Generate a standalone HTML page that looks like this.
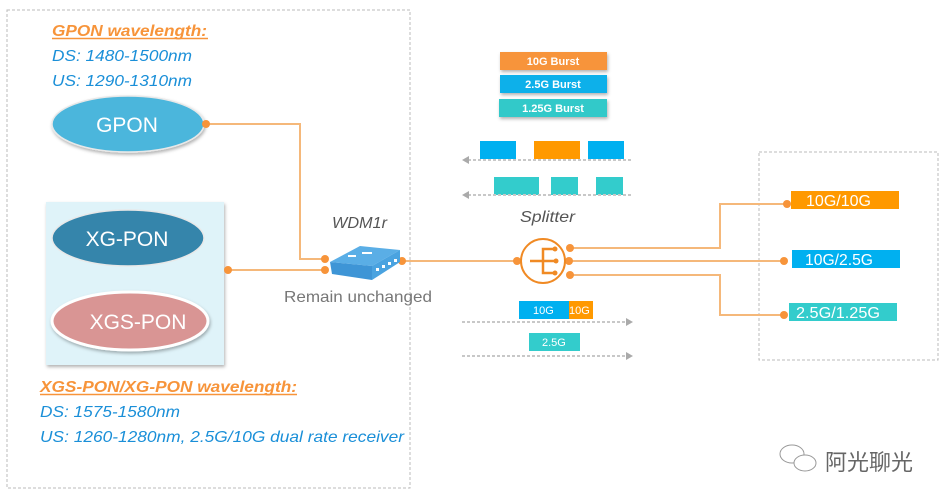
<!DOCTYPE html>
<html><head><meta charset="utf-8"><style>
body{margin:0;background:#fff;}
svg{display:block;font-family:"Liberation Sans","Noto Sans CJK SC",sans-serif;}
</style></head><body>
<svg width="946" height="502" viewBox="0 0 946 502" xmlns="http://www.w3.org/2000/svg">
<defs>
<filter id="sh" x="-20%" y="-20%" width="140%" height="150%"><feDropShadow dx="1" dy="2" stdDeviation="1.5" flood-color="#000" flood-opacity="0.3"/></filter>
</defs>
<rect x="7" y="10" width="403" height="478" fill="none" stroke="#bbb" stroke-dasharray="3,2"/>
<rect x="759" y="152" width="179" height="208" fill="none" stroke="#bbb" stroke-dasharray="3,2"/>

<text x="52" y="36" font-size="16" font-weight="bold" font-style="italic" fill="#f7943a" textLength="155" lengthAdjust="spacingAndGlyphs">GPON wavelength:</text>
<line x1="52" y1="38.5" x2="208" y2="38.5" stroke="#f7943a" stroke-width="1.5"/>
<text x="52" y="61" font-size="16" font-style="italic" fill="#1a8fd8" textLength="140" lengthAdjust="spacingAndGlyphs">DS: 1480-1500nm</text>
<text x="52" y="86" font-size="16" font-style="italic" fill="#1a8fd8" textLength="140" lengthAdjust="spacingAndGlyphs">US: 1290-1310nm</text>

<ellipse cx="128" cy="124" rx="76" ry="28" fill="#4bb6dc" stroke="#e8e8e8" stroke-width="1.5" filter="url(#sh)"/>
<text x="127" y="132" font-size="21" fill="#fff" text-anchor="middle">GPON</text>

<rect x="46" y="202" width="178" height="163" fill="#dff3f9" filter="url(#sh)"/>
<ellipse cx="128" cy="238" rx="76" ry="28" fill="#3585ab" stroke="#e8e8e8" stroke-width="1.5"/>
<text x="127" y="246" font-size="21" fill="#fff" text-anchor="middle">XG-PON</text>
<ellipse cx="130" cy="321" rx="78" ry="29" fill="#d99594" stroke="#fff" stroke-width="3" filter="url(#sh)"/>
<text x="138" y="329" font-size="21" fill="#fff" text-anchor="middle">XGS-PON</text>

<text x="40" y="392" font-size="16" font-weight="bold" font-style="italic" fill="#f7943a" textLength="257" lengthAdjust="spacingAndGlyphs">XGS-PON/XG-PON wavelength:</text>
<line x1="40" y1="394.5" x2="297" y2="394.5" stroke="#f7943a" stroke-width="1.5"/>
<text x="40" y="417" font-size="16" font-style="italic" fill="#1a8fd8" textLength="140" lengthAdjust="spacingAndGlyphs">DS: 1575-1580nm</text>
<text x="40" y="442" font-size="16" font-style="italic" fill="#1a8fd8" textLength="364" lengthAdjust="spacingAndGlyphs">US: 1260-1280nm, 2.5G/10G dual rate receiver</text>

<g stroke="#f5b87a" stroke-width="2" fill="none">
<polyline points="206,124 300,124 300,259 326,259"/>
<line x1="228" y1="270" x2="326" y2="270"/>
<line x1="402" y1="261" x2="518" y2="261"/>
<polyline points="570,248 720,248 720,204 787,204"/>
<line x1="570" y1="261" x2="784" y2="261"/>
<polyline points="570,275 720,275 720,315 784,315"/>
</g>
<g fill="#f7943a">
<circle cx="206" cy="124" r="4"/><circle cx="228" cy="270" r="4"/>
<circle cx="325" cy="259" r="4"/><circle cx="325" cy="270" r="4"/>
<circle cx="402" cy="261" r="4"/><circle cx="517" cy="261" r="4"/>
<circle cx="570" cy="248" r="4"/><circle cx="569" cy="261" r="4"/><circle cx="570" cy="275" r="4"/>
<circle cx="787" cy="204" r="4"/><circle cx="784" cy="261" r="4"/><circle cx="784" cy="315" r="4"/>
</g>

<polygon points="330,262 360,246 400,250 372,266" fill="#5aaee6"/>
<polygon points="330,262 372,266 372,280 332,274" fill="#3e95d6"/>
<polygon points="372,266 400,250 400,262 372,280" fill="#4aa3e0"/>
<g fill="#fff"><rect x="348" y="255" width="8" height="2"/><rect x="362" y="252" width="10" height="2"/>
<rect x="376" y="268" width="3" height="3"/><rect x="382" y="265" width="3" height="3"/><rect x="388" y="262" width="3" height="3"/><rect x="394" y="259" width="3" height="3"/></g>
<text x="332" y="228" font-size="16" font-style="italic" fill="#555" textLength="55" lengthAdjust="spacingAndGlyphs">WDM1r</text>
<text x="284" y="302" font-size="16" fill="#777" textLength="148" lengthAdjust="spacingAndGlyphs">Remain unchanged</text>

<text x="520" y="222" font-size="16" font-style="italic" fill="#555" textLength="55" lengthAdjust="spacingAndGlyphs">Splitter</text>
<circle cx="543" cy="261" r="22" fill="none" stroke="#f08a24" stroke-width="2"/>
<g stroke="#f08a24" stroke-width="2.5" fill="none">
<line x1="530" y1="261" x2="556" y2="261"/>
<polyline points="554,249 543,249 543,273 554,273"/>
</g>
<g fill="#f08a24"><circle cx="555" cy="249" r="2.5"/><circle cx="556" cy="261" r="2.5"/><circle cx="555" cy="273" r="2.5"/></g>

<g filter="url(#sh)">
<rect x="500" y="52" width="107" height="18" fill="#f7943a"/>
<rect x="500" y="75" width="107" height="18" fill="#0fb0ea"/>
<rect x="499" y="99" width="108" height="18" fill="#33c9c9"/>
</g>
<g font-size="11" font-weight="bold" fill="#fff" text-anchor="middle">
<text x="553" y="65">10G Burst</text><text x="553" y="88">2.5G Burst</text><text x="553" y="112">1.25G Burst</text>
</g>

<rect x="480" y="141" width="36" height="18" fill="#00b0f0"/>
<rect x="534" y="141" width="46" height="18" fill="#ff9900"/>
<rect x="588" y="141" width="36" height="18" fill="#00b0f0"/>
<rect x="494" y="177" width="45" height="18" fill="#33cccc"/>
<rect x="551" y="177" width="27" height="18" fill="#33cccc"/>
<rect x="596" y="177" width="27" height="18" fill="#33cccc"/>
<g stroke="#c8c8c8" stroke-width="2" stroke-dasharray="3,2">
<line x1="468" y1="160" x2="633" y2="160"/><line x1="468" y1="195" x2="633" y2="195"/>
<line x1="462" y1="322" x2="626" y2="322"/><line x1="462" y1="356" x2="626" y2="356"/>
</g>
<g fill="#aaa">
<polygon points="462,160 469,156 469,164"/><polygon points="462,195 469,191 469,199"/>
<polygon points="633,322 626,318 626,326"/><polygon points="633,356 626,352 626,360"/>
</g>
<rect x="519" y="301" width="50" height="18" fill="#00b0f0"/>
<rect x="569" y="301" width="24" height="18" fill="#ff9900"/>
<rect x="529" y="333" width="51" height="18" fill="#33cccc"/>
<g font-size="11" fill="#fff">
<text x="533" y="314">10G</text><text x="569" y="314">10G</text><text x="542" y="346">2.5G</text>
</g>

<rect x="791" y="191" width="108" height="18" fill="#ff9900"/>
<rect x="792" y="250" width="108" height="18" fill="#00b0f0"/>
<rect x="789" y="303" width="108" height="18" fill="#33cccc"/>
<g font-size="16" fill="#fff">
<text x="806" y="206" textLength="65" lengthAdjust="spacingAndGlyphs">10G/10G</text>
<text x="805" y="265" textLength="68" lengthAdjust="spacingAndGlyphs">10G/2.5G</text>
<text x="796" y="318" textLength="84" lengthAdjust="spacingAndGlyphs">2.5G/1.25G</text>
</g>

<g fill="none" stroke="#999" stroke-width="1">
<ellipse cx="792" cy="454" rx="12" ry="9"/>
<ellipse cx="805" cy="463" rx="11" ry="8" fill="#fff"/>
</g>
<text x="825" y="470" font-size="22" fill="#666">阿光聊光</text>
</svg>
</body></html>
